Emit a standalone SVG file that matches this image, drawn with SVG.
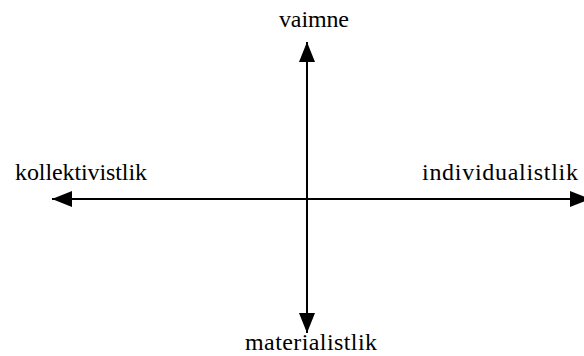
<svg xmlns="http://www.w3.org/2000/svg" width="584" height="356" viewBox="0 0 584 356">
<style>
.lbl{font-family:"Liberation Serif","Times New Roman",serif;font-size:24px;fill:#000}
.ax{stroke:#000;stroke-width:2;fill:none}
</style>
<defs>
<marker id="ah" viewBox="0 0 20 16" refX="20" refY="8" markerWidth="20" markerHeight="16" markerUnits="userSpaceOnUse" orient="auto">
<path d="M0,0 L20,8 L0,16 Z" fill="#000"/>
</marker>
</defs>
<rect width="584" height="356" fill="#fff"/>
<g id="connectors">
<line class="ax" x1="307" y1="199" x2="307" y2="42" marker-end="url(#ah)"/>
<line class="ax" x1="307" y1="199" x2="307" y2="333" marker-end="url(#ah)"/>
<line class="ax" x1="307" y1="199" x2="52" y2="199" marker-end="url(#ah)"/>
<line class="ax" x1="307" y1="199" x2="590" y2="199" marker-end="url(#ah)"/>
</g>
<g id="vaimne"><text class="lbl" x="279" y="27" textLength="70" lengthAdjust="spacing">vaimne</text></g>
<g id="kollektivistlik"><text class="lbl" x="15" y="180" textLength="132" lengthAdjust="spacing">kollektivistlik</text></g>
<g id="individualistlik"><text class="lbl" x="422" y="180" textLength="156" lengthAdjust="spacing">individualistlik</text></g>
<g id="materialistlik"><text class="lbl" x="245" y="350" textLength="132" lengthAdjust="spacing">materialistlik</text></g>
</svg>
